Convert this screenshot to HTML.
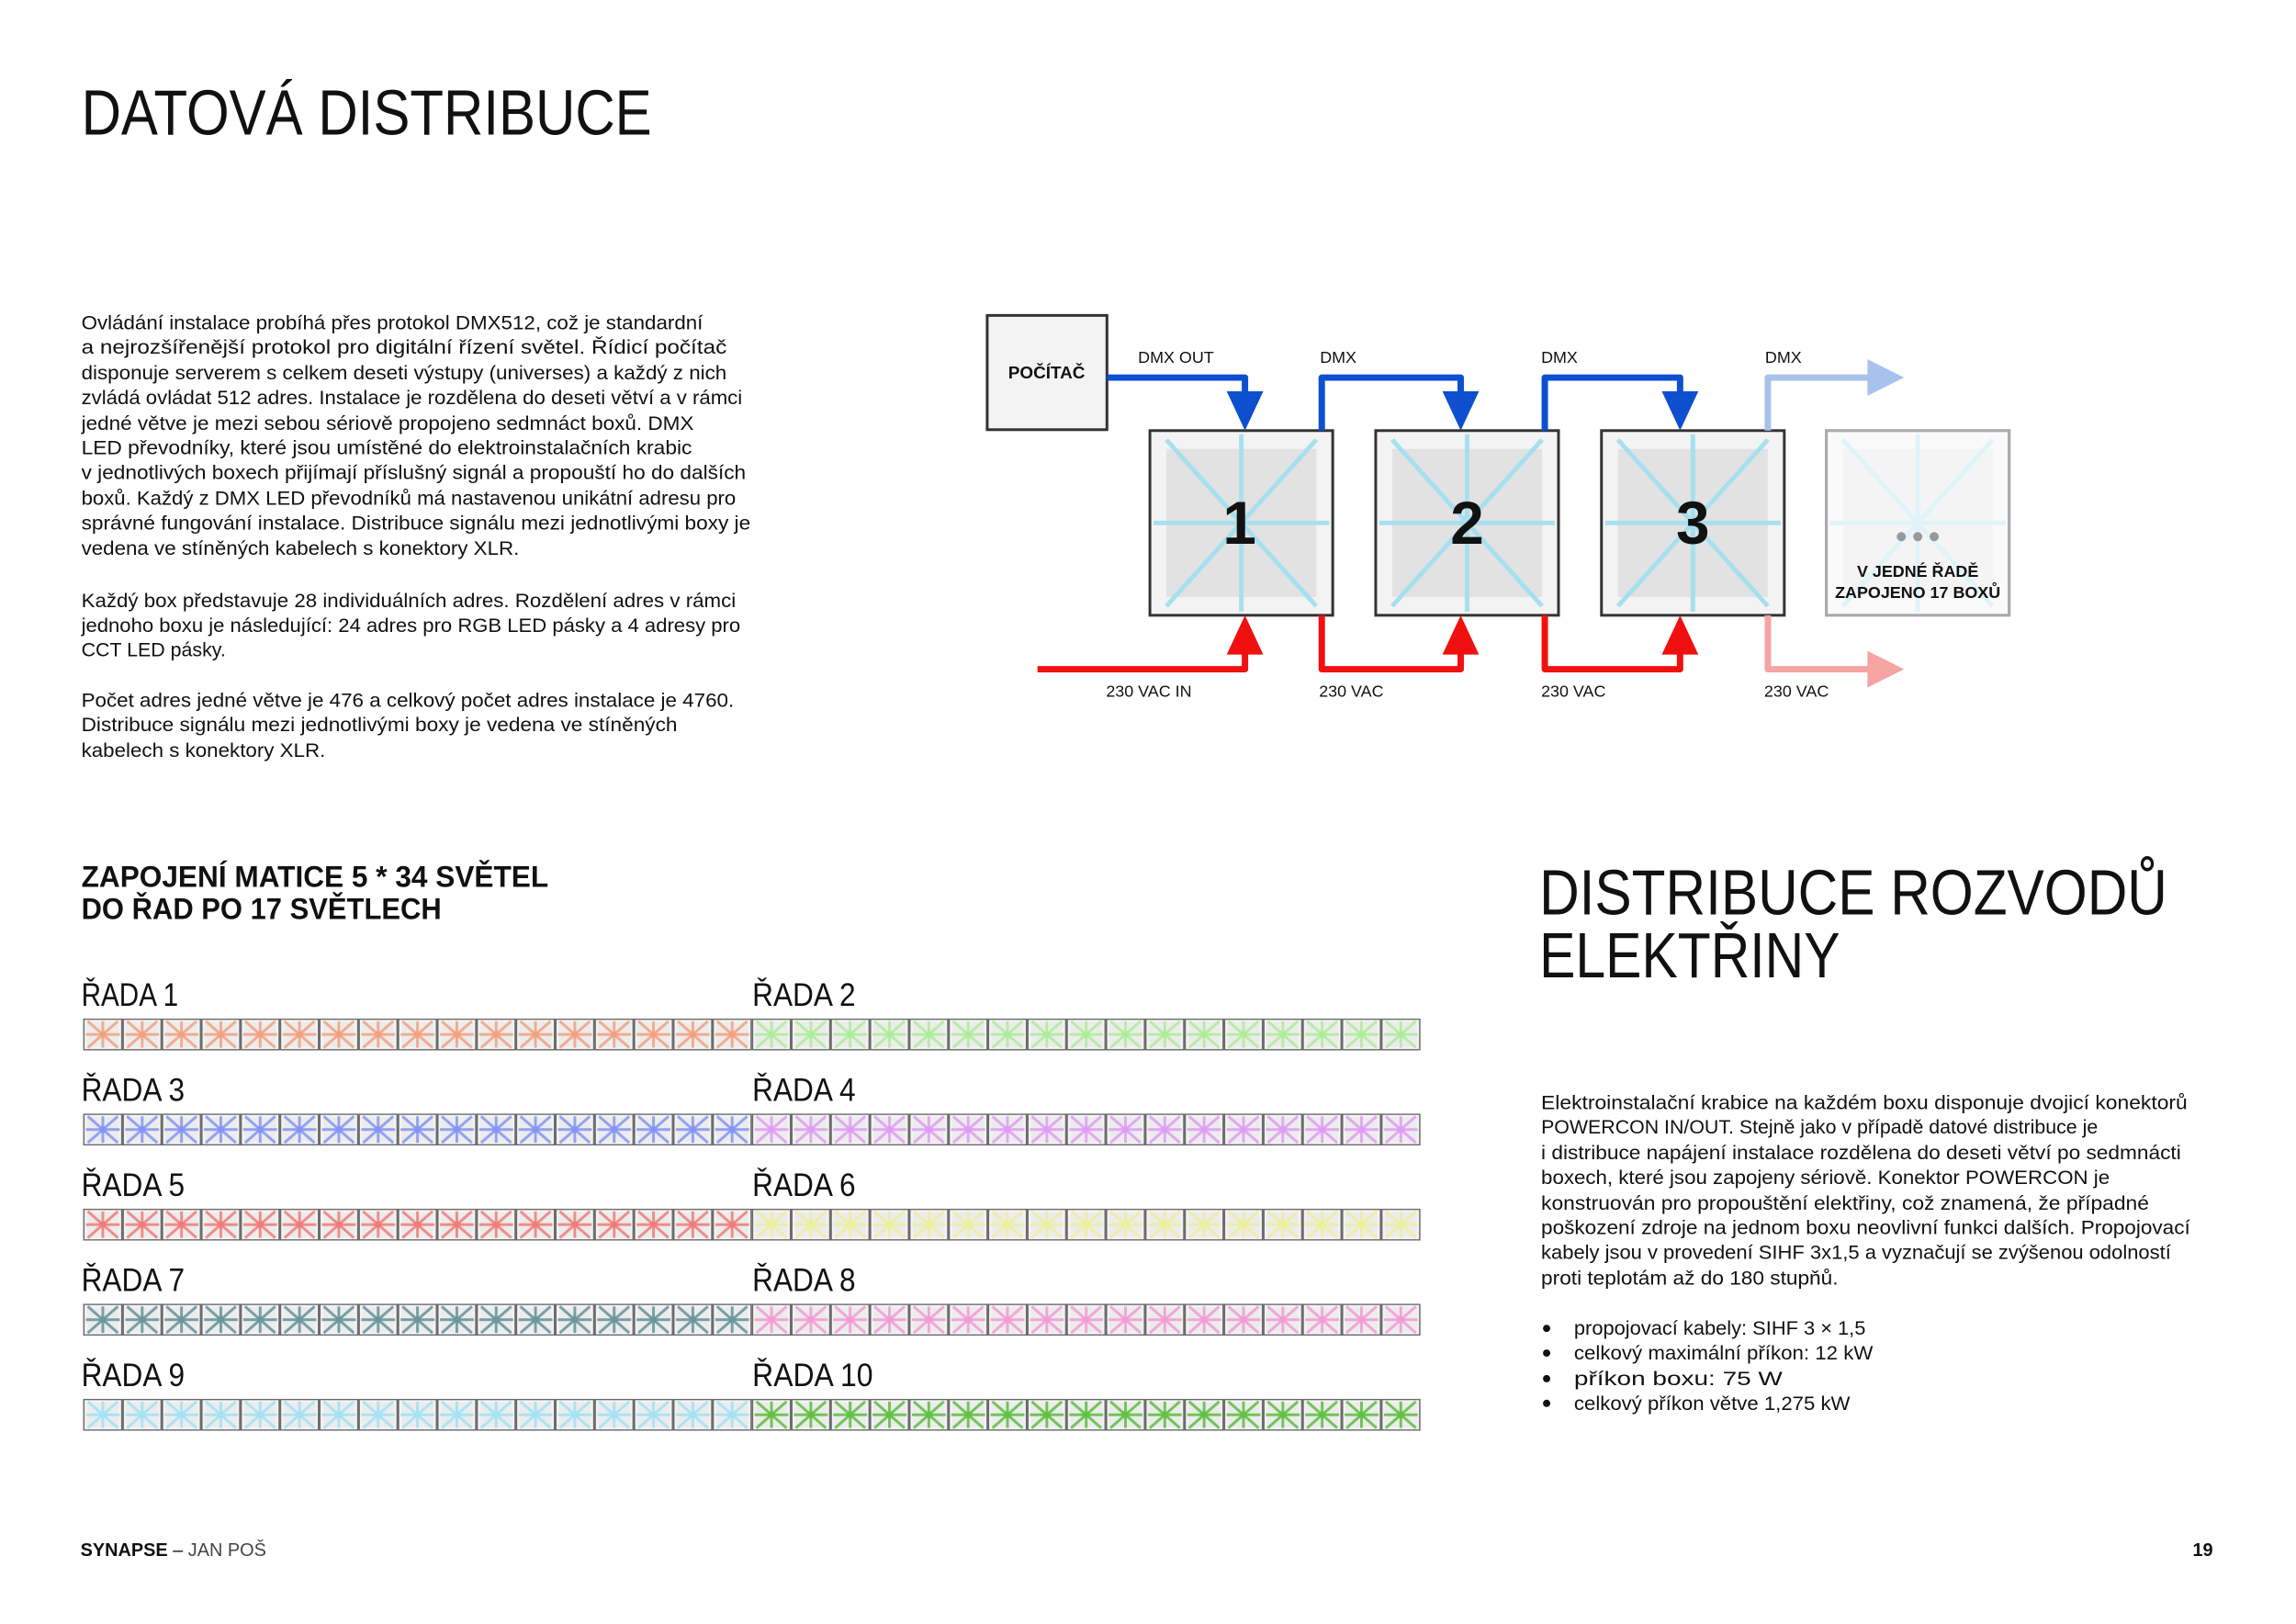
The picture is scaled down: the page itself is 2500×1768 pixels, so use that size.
<!DOCTYPE html>
<html><head><meta charset="utf-8"><style>
html,body{margin:0;padding:0;background:#fff;}
svg{display:block;}
text{font-family:"Liberation Sans",sans-serif;fill:#111;}
</style></head><body>
<svg width="2500" height="1768" viewBox="0 0 2500 1768" xmlns="http://www.w3.org/2000/svg">
<defs>
<g id="star">
<rect x="0.75" y="0.75" width="41.5" height="33.5" fill="#f3f3f3" stroke="#6a6a6a" stroke-width="1.5"/>
<rect x="4" y="4" width="35" height="27" fill="#ececec"/>
</g>
<pattern id="p1" patternUnits="userSpaceOnUse" x="91" y="1114" width="43.03" height="104"><use href="#star"/><g stroke="#f4a07f" stroke-width="3" opacity="0.85"><line x1="21.5" y1="3" x2="21.5" y2="32"/><line x1="3" y1="17.5" x2="40" y2="17.5"/><line x1="5" y1="3" x2="38" y2="32"/><line x1="38" y1="3" x2="5" y2="32"/></g><circle cx="21.5" cy="17.5" r="3.5" fill="#f4a07f"/></pattern>
<pattern id="p2" patternUnits="userSpaceOnUse" x="91" y="1114" width="43.03" height="104"><use href="#star"/><g stroke="#aeed98" stroke-width="3" opacity="0.85"><line x1="21.5" y1="3" x2="21.5" y2="32"/><line x1="3" y1="17.5" x2="40" y2="17.5"/><line x1="5" y1="3" x2="38" y2="32"/><line x1="38" y1="3" x2="5" y2="32"/></g><circle cx="21.5" cy="17.5" r="3.5" fill="#aeed98"/></pattern>
<pattern id="p3" patternUnits="userSpaceOnUse" x="91" y="1114" width="43.03" height="104"><use href="#star"/><g stroke="#8394f4" stroke-width="3" opacity="0.85"><line x1="21.5" y1="3" x2="21.5" y2="32"/><line x1="3" y1="17.5" x2="40" y2="17.5"/><line x1="5" y1="3" x2="38" y2="32"/><line x1="38" y1="3" x2="5" y2="32"/></g><circle cx="21.5" cy="17.5" r="3.5" fill="#8394f4"/></pattern>
<pattern id="p4" patternUnits="userSpaceOnUse" x="91" y="1114" width="43.03" height="104"><use href="#star"/><g stroke="#e09cf4" stroke-width="3" opacity="0.85"><line x1="21.5" y1="3" x2="21.5" y2="32"/><line x1="3" y1="17.5" x2="40" y2="17.5"/><line x1="5" y1="3" x2="38" y2="32"/><line x1="38" y1="3" x2="5" y2="32"/></g><circle cx="21.5" cy="17.5" r="3.5" fill="#e09cf4"/></pattern>
<pattern id="p5" patternUnits="userSpaceOnUse" x="91" y="1114" width="43.03" height="104"><use href="#star"/><g stroke="#f07b78" stroke-width="3" opacity="0.85"><line x1="21.5" y1="3" x2="21.5" y2="32"/><line x1="3" y1="17.5" x2="40" y2="17.5"/><line x1="5" y1="3" x2="38" y2="32"/><line x1="38" y1="3" x2="5" y2="32"/></g><circle cx="21.5" cy="17.5" r="3.5" fill="#f07b78"/></pattern>
<pattern id="p6" patternUnits="userSpaceOnUse" x="91" y="1114" width="43.03" height="104"><use href="#star"/><g stroke="#eef09a" stroke-width="3" opacity="0.85"><line x1="21.5" y1="3" x2="21.5" y2="32"/><line x1="3" y1="17.5" x2="40" y2="17.5"/><line x1="5" y1="3" x2="38" y2="32"/><line x1="38" y1="3" x2="5" y2="32"/></g><circle cx="21.5" cy="17.5" r="3.5" fill="#eef09a"/></pattern>
<pattern id="p7" patternUnits="userSpaceOnUse" x="91" y="1114" width="43.03" height="104"><use href="#star"/><g stroke="#6a969c" stroke-width="3" opacity="0.9"><line x1="21.5" y1="3" x2="21.5" y2="32"/><line x1="3" y1="17.5" x2="40" y2="17.5"/><line x1="5" y1="3" x2="38" y2="32"/><line x1="38" y1="3" x2="5" y2="32"/></g><circle cx="21.5" cy="17.5" r="3.5" fill="#6a969c"/></pattern>
<pattern id="p8" patternUnits="userSpaceOnUse" x="91" y="1114" width="43.03" height="104"><use href="#star"/><g stroke="#f49ad4" stroke-width="3" opacity="0.85"><line x1="21.5" y1="3" x2="21.5" y2="32"/><line x1="3" y1="17.5" x2="40" y2="17.5"/><line x1="5" y1="3" x2="38" y2="32"/><line x1="38" y1="3" x2="5" y2="32"/></g><circle cx="21.5" cy="17.5" r="3.5" fill="#f49ad4"/></pattern>
<pattern id="p9" patternUnits="userSpaceOnUse" x="91" y="1114" width="43.03" height="104"><use href="#star"/><g stroke="#a4e2f4" stroke-width="3" opacity="0.9"><line x1="21.5" y1="3" x2="21.5" y2="32"/><line x1="3" y1="17.5" x2="40" y2="17.5"/><line x1="5" y1="3" x2="38" y2="32"/><line x1="38" y1="3" x2="5" y2="32"/></g><circle cx="21.5" cy="17.5" r="3.5" fill="#a4e2f4"/></pattern>
<pattern id="p10" patternUnits="userSpaceOnUse" x="91" y="1114" width="43.03" height="104"><use href="#star"/><g stroke="#62c046" stroke-width="3" opacity="0.9"><line x1="21.5" y1="3" x2="21.5" y2="32"/><line x1="3" y1="17.5" x2="40" y2="17.5"/><line x1="5" y1="3" x2="38" y2="32"/><line x1="38" y1="3" x2="5" y2="32"/></g><circle cx="21.5" cy="17.5" r="3.5" fill="#62c046"/></pattern>
<g id="box">
<rect x="0" y="0" width="200" height="202" fill="#f3f3f3" stroke="#333" stroke-width="3"/>
<rect x="18" y="20" width="164" height="162" fill="#e2e2e2"/>
<g stroke="#a6e0f0" stroke-width="5"><line x1="100" y1="4" x2="100" y2="198"/><line x1="4" y1="101" x2="196" y2="101"/><line x1="18" y1="10" x2="182" y2="192"/><line x1="182" y1="10" x2="18" y2="192"/></g>
</g>
</defs>
<g transform="scale(0.9953)">

<text x="89" y="147" font-size="70" textLength="624" lengthAdjust="spacingAndGlyphs">DATOVÁ DISTRIBUCE</text>

<g font-size="21.5">
<text x="89" y="360" textLength="680" lengthAdjust="spacingAndGlyphs">Ovládání instalace probíhá přes protokol DMX512, což je standardní</text>
<text x="89" y="387" textLength="706" lengthAdjust="spacingAndGlyphs">a nejrozšířenější protokol pro digitální řízení světel. Řídicí počítač</text>
<text x="89" y="415" textLength="706" lengthAdjust="spacingAndGlyphs">disponuje serverem s celkem deseti výstupy (universes) a každý z nich</text>
<text x="89" y="442" textLength="723" lengthAdjust="spacingAndGlyphs">zvládá ovládat 512 adres. Instalace je rozdělena do deseti větví a v rámci</text>
<text x="89" y="470" textLength="670" lengthAdjust="spacingAndGlyphs">jedné větve je mezi sebou sériově propojeno sedmnáct boxů. DMX</text>
<text x="89" y="497" textLength="668" lengthAdjust="spacingAndGlyphs">LED převodníky, které jsou umístěné do elektroinstalačních krabic</text>
<text x="89" y="524" textLength="727" lengthAdjust="spacingAndGlyphs">v jednotlivých boxech přijímají příslušný signál a propouští ho do dalších</text>
<text x="89" y="552" textLength="716" lengthAdjust="spacingAndGlyphs">boxů. Každý z DMX LED převodníků má nastavenou unikátní adresu pro</text>
<text x="89" y="579" textLength="732" lengthAdjust="spacingAndGlyphs">správné fungování instalace. Distribuce signálu mezi jednotlivými boxy je</text>
<text x="89" y="607" textLength="479" lengthAdjust="spacingAndGlyphs">vedena ve stíněných kabelech s konektory XLR.</text>
<text x="89" y="664" textLength="716" lengthAdjust="spacingAndGlyphs">Každý box představuje 28 individuálních adres. Rozdělení adres v rámci</text>
<text x="89" y="691" textLength="721" lengthAdjust="spacingAndGlyphs">jednoho boxu je následující: 24 adres pro RGB LED pásky a 4 adresy pro</text>
<text x="89" y="718" textLength="158" lengthAdjust="spacingAndGlyphs">CCT LED pásky.</text>
<text x="89" y="773" textLength="714" lengthAdjust="spacingAndGlyphs">Počet adres jedné větve je 476 a celkový počet adres instalace je 4760.</text>
<text x="89" y="800" textLength="652" lengthAdjust="spacingAndGlyphs">Distribuce signálu mezi jednotlivými boxy je vedena ve stíněných</text>
<text x="89" y="828" textLength="267" lengthAdjust="spacingAndGlyphs">kabelech s konektory XLR.</text>
</g>

<rect x="1080" y="345" width="131" height="125" fill="#f3f3f3" stroke="#333" stroke-width="3"/>
<text x="1145" y="414" font-size="19" font-weight="bold" text-anchor="middle">POČÍTAČ</text>

<use href="#box" x="1258" y="471"/>
<use href="#box" x="1505" y="471"/>
<use href="#box" x="1752" y="471"/>
<g opacity="0.35"><use href="#box" x="1998" y="471"/></g>
<rect x="1998" y="471" width="200" height="202" fill="none" stroke="#aaa" stroke-width="3"/>
<g font-size="66" font-weight="bold" text-anchor="middle">
<text x="1356" y="595">1</text><text x="1605" y="595">2</text><text x="1852" y="595">3</text>
</g>
<g fill="#999"><circle cx="2080" cy="587" r="5"/><circle cx="2098" cy="587" r="5"/><circle cx="2116" cy="587" r="5"/></g>
<g font-size="18" font-weight="bold" text-anchor="middle">
<text x="2098" y="631">V JEDNÉ ŘADĚ</text><text x="2098" y="654">ZAPOJENO 17 BOXŮ</text>
</g>

<g fill="none" stroke="#0e4fd0" stroke-width="7" stroke-linejoin="round">
<path d="M1211 413 H1362 V432"/>
<path d="M1446 471 V413 H1598 V432"/>
<path d="M1690 471 V413 H1838 V432"/>
</g>
<g fill="#0e4fd0">
<polygon points="1342,428 1382,428 1362,471"/>
<polygon points="1578,428 1618,428 1598,471"/>
<polygon points="1818,428 1858,428 1838,471"/>
</g>
<path d="M1934 471 V413 H2050" fill="none" stroke="#a7c2ec" stroke-width="7" stroke-linejoin="round"/>
<polygon points="2043,393 2083,413 2043,433" fill="#a7c2ec"/>

<g fill="none" stroke="#f01010" stroke-width="7" stroke-linejoin="round">
<path d="M1135 732 H1362 V712"/>
<path d="M1446 673 V732 H1598 V712"/>
<path d="M1690 673 V732 H1838 V712"/>
</g>
<g fill="#f01010">
<polygon points="1342,716 1382,716 1362,673"/>
<polygon points="1578,716 1618,716 1598,673"/>
<polygon points="1818,716 1858,716 1838,673"/>
</g>
<path d="M1934 673 V732 H2050" fill="none" stroke="#f5a3a3" stroke-width="7" stroke-linejoin="round"/>
<polygon points="2043,712 2083,732 2043,752" fill="#f5a3a3"/>

<g font-size="18" fill="#222">
<text x="1245" y="397">DMX OUT</text>
<text x="1444" y="397">DMX</text>
<text x="1686" y="397">DMX</text>
<text x="1931" y="397">DMX</text>
<text x="1210" y="762">230 VAC IN</text>
<text x="1443" y="762">230 VAC</text>
<text x="1686" y="762">230 VAC</text>
<text x="1930" y="762">230 VAC</text>
</g>

<g font-size="33" font-weight="bold">
<text x="89" y="970" textLength="511" lengthAdjust="spacingAndGlyphs">ZAPOJENÍ MATICE 5 * 34 SVĚTEL</text>
<text x="89" y="1005" textLength="394" lengthAdjust="spacingAndGlyphs">DO ŘAD PO 17 SVĚTLECH</text>
</g>

<g font-size="35">
<text x="89" y="1100" textLength="106" lengthAdjust="spacingAndGlyphs">ŘADA 1</text>
<text x="823" y="1100" textLength="113" lengthAdjust="spacingAndGlyphs">ŘADA 2</text>
<text x="89" y="1204" textLength="113" lengthAdjust="spacingAndGlyphs">ŘADA 3</text>
<text x="823" y="1204" textLength="113" lengthAdjust="spacingAndGlyphs">ŘADA 4</text>
<text x="89" y="1308" textLength="113" lengthAdjust="spacingAndGlyphs">ŘADA 5</text>
<text x="823" y="1308" textLength="113" lengthAdjust="spacingAndGlyphs">ŘADA 6</text>
<text x="89" y="1412" textLength="113" lengthAdjust="spacingAndGlyphs">ŘADA 7</text>
<text x="823" y="1412" textLength="113" lengthAdjust="spacingAndGlyphs">ŘADA 8</text>
<text x="89" y="1516" textLength="113" lengthAdjust="spacingAndGlyphs">ŘADA 9</text>
<text x="823" y="1516" textLength="132" lengthAdjust="spacingAndGlyphs">ŘADA 10</text>
</g>
<rect x="91" y="1114" width="731.5" height="35" fill="url(#p1)"/>
<rect x="822.5" y="1114" width="731.5" height="35" fill="url(#p2)"/>
<rect x="91" y="1218" width="731.5" height="35" fill="url(#p3)"/>
<rect x="822.5" y="1218" width="731.5" height="35" fill="url(#p4)"/>
<rect x="91" y="1322" width="731.5" height="35" fill="url(#p5)"/>
<rect x="822.5" y="1322" width="731.5" height="35" fill="url(#p6)"/>
<rect x="91" y="1426" width="731.5" height="35" fill="url(#p7)"/>
<rect x="822.5" y="1426" width="731.5" height="35" fill="url(#p8)"/>
<rect x="91" y="1530" width="731.5" height="35" fill="url(#p9)"/>
<rect x="822.5" y="1530" width="731.5" height="35" fill="url(#p10)"/>

<g font-size="70">
<text x="1684" y="1000" textLength="687" lengthAdjust="spacingAndGlyphs">DISTRIBUCE ROZVODŮ</text>
<text x="1684" y="1069" textLength="329" lengthAdjust="spacingAndGlyphs">ELEKTŘINY</text>
</g>

<g font-size="21.5">
<text x="1686" y="1213" textLength="707" lengthAdjust="spacingAndGlyphs">Elektroinstalační krabice na každém boxu disponuje dvojicí konektorů</text>
<text x="1686" y="1240" textLength="609" lengthAdjust="spacingAndGlyphs">POWERCON IN/OUT. Stejně jako v případě datové distribuce je</text>
<text x="1686" y="1268" textLength="700" lengthAdjust="spacingAndGlyphs">i distribuce napájení instalace rozdělena do deseti větví po sedmnácti</text>
<text x="1686" y="1295" textLength="622" lengthAdjust="spacingAndGlyphs">boxech, které jsou zapojeny sériově. Konektor POWERCON je</text>
<text x="1686" y="1323" textLength="665" lengthAdjust="spacingAndGlyphs">konstruován pro propouštění elektřiny, což znamená, že případné</text>
<text x="1686" y="1350" textLength="710" lengthAdjust="spacingAndGlyphs">poškození zdroje na jednom boxu neovlivní funkci dalších. Propojovací</text>
<text x="1686" y="1377" textLength="689" lengthAdjust="spacingAndGlyphs">kabely jsou v provedení SIHF 3x1,5 a vyznačují se zvýšenou odolností</text>
<text x="1686" y="1405" textLength="325" lengthAdjust="spacingAndGlyphs">proti teplotám až do 180 stupňů.</text>
<g fill="#111"><circle cx="1692" cy="1453" r="4"/><circle cx="1692" cy="1480" r="4"/><circle cx="1692" cy="1508" r="4"/><circle cx="1692" cy="1535" r="4"/></g>
<text x="1722" y="1460" textLength="319" lengthAdjust="spacingAndGlyphs">propojovací kabely: SIHF 3 × 1,5</text>
<text x="1722" y="1487" textLength="327" lengthAdjust="spacingAndGlyphs">celkový maximální příkon: 12 kW</text>
<text x="1722" y="1515" textLength="228" lengthAdjust="spacingAndGlyphs">příkon boxu: 75 W</text>
<text x="1722" y="1542" textLength="302" lengthAdjust="spacingAndGlyphs">celkový příkon větve 1,275 kW</text>
</g>

<text x="88" y="1702" font-size="20"><tspan font-weight="bold">SYNAPSE</tspan> – <tspan fill="#444">JAN POŠ</tspan></text>
<text x="2421" y="1702" font-size="20" font-weight="bold" text-anchor="end">19</text>
</g>
</svg>
</body></html>
